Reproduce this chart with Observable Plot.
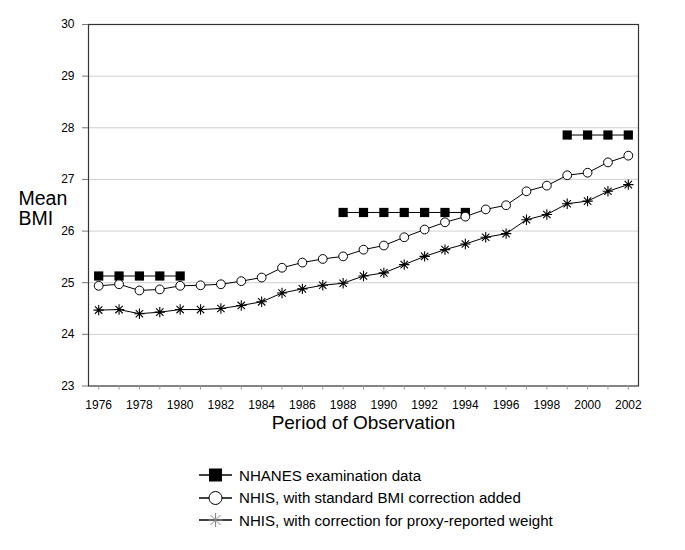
<!DOCTYPE html>
<html>
<head>
<meta charset="utf-8">
<script src="https://cdn.jsdelivr.net/npm/d3@7"></script>
<script src="https://cdn.jsdelivr.net/npm/@observablehq/plot@0.6"></script>
<style>
  html, body { margin: 0; padding: 0; background: #fff; }
  #wrap { width: 685px; font-family: "Liberation Sans", Arial, sans-serif; }
  #legend { padding-top: 18.75px; padding-left: 199px; }
  .row { display: flex; align-items: center; height: 22.5px; font-size: 15.1px; color: #000; }
  .row svg { margin-right: 7px; }
</style>
</head>
<body>
<div id="wrap"></div>
<script>
// ---- data ----
const years = [1976,1977,1978,1979,1980,1981,1982,1983,1984,1985,1986,1987,1988,1989,
  1990,1991,1992,1993,1994,1995,1996,1997,1998,1999,2000,2001,2002];
const yearLabels = [1976,1978,1980,1982,1984,1986,1988,1990,1992,1994,1996,1998,2000,2002];
const yTicks = [23,24,25,26,27,28,29,30];

const nhisStandard = [24.94,24.97,24.85,24.87,24.94,24.95,24.97,25.03,25.10,25.29,25.39,25.46,25.51,25.64,
  25.72,25.88,26.03,26.17,26.28,26.42,26.50,26.77,26.88,27.08,27.13,27.33,27.46];
const nhisProxy = [24.47,24.48,24.40,24.43,24.48,24.48,24.50,24.56,24.63,24.80,24.88,24.95,24.99,25.13,
  25.19,25.35,25.51,25.64,25.75,25.88,25.95,26.22,26.32,26.53,26.58,26.77,26.90];

const nhanesYears = [1976,1977,1978,1979,1980, 1988,1989,1990,1991,1992,1993,1994, 1999,2000,2001,2002];
const nhanesValues = [25.13,25.13,25.13,25.13,25.13, 26.36,26.36,26.36,26.36,26.36,26.36,26.36, 27.86,27.86,27.86,27.86];
const nhanesSurvey = ["NHANES II","NHANES II","NHANES II","NHANES II","NHANES II",
  "NHANES III","NHANES III","NHANES III","NHANES III","NHANES III","NHANES III","NHANES III",
  "NHANES 1999-2002","NHANES 1999-2002","NHANES 1999-2002","NHANES 1999-2002"];

const legendLabels = ["NHANES examination data","NHIS, with standard BMI correction added","NHIS, with correction for proxy-reported weight"];

// ---- tables ----
const stdData = years.map((yr, i) => ({year: yr, bmi: nhisStandard[i]}));
const proxyData = years.map((yr, i) => ({year: yr, bmi: nhisProxy[i]}));
const nhanesData = nhanesYears.map((yr, i) => ({year: yr, bmi: nhanesValues[i], survey: nhanesSurvey[i]}));

const star = {
  draw(ctx, size) {
    const r = Math.sqrt(size / Math.PI);
    const d = r * Math.SQRT1_2;
    ctx.moveTo(-r, 0); ctx.lineTo(r, 0);
    ctx.moveTo(0, -r); ctx.lineTo(0, r);
    ctx.moveTo(-d, -d); ctx.lineTo(d, d);
    ctx.moveTo(-d, d); ctx.lineTo(d, -d);
  }
};

const chart = Plot.plot({
  width: 685,
  height: 445,
  marginLeft: 88,
  marginRight: 47,
  marginTop: 24,
  marginBottom: 59.5,
  style: {fontFamily: "Liberation Sans, Arial, sans-serif", background: "#fff", color: "#000"},
  x: {domain: [1975.5, 2002.5]},
  y: {domain: [23, 30]},
  marks: [
    Plot.gridY(yTicks.filter(d => d > 23 && d < 30), {stroke: "#cfcfcf", strokeOpacity: 1}),
    Plot.frame({stroke: "#333", strokeWidth: 1.2}),
    Plot.axisY(yTicks, {tickSize: 6, tickPadding: 8, fontSize: 12, stroke: "#777", label: null, tickFormat: d => String(d)}),
    Plot.axisX(years, {tickSize: 4, stroke: "#999", tickFormat: () => "", label: null}),
    Plot.axisX(yearLabels, {tickSize: 0, tickPadding: 14, fontSize: 12, tickFormat: d => String(d), label: null}),
    Plot.text(["Period of Observation"], {frameAnchor: "bottom", dy: 37, lineAnchor: "middle", fontSize: 19, fill: "#000"}),
    Plot.text(["Mean\nBMI"], {frameAnchor: "left", textAnchor: "start", dx: -70, dy: 3, lineAnchor: "middle", fontSize: 19.5, lineHeight: 1.05, fill: "#000"}),
    // NHIS proxy
    Plot.line(proxyData, {x: "year", y: "bmi", stroke: "#000", strokeWidth: 1}),
    Plot.dot(proxyData, {x: "year", y: "bmi", symbol: star, r: 5.2, stroke: "#000", strokeWidth: 1.1, fill: "none"}),
    // NHANES
    Plot.line(nhanesData, {x: "year", y: "bmi", z: "survey", stroke: "#000", strokeWidth: 1}),
    Plot.dot(nhanesData, {x: "year", y: "bmi", symbol: "square", r: 5.2, fill: "#000", stroke: "none"}),
    // NHIS standard
    Plot.line(stdData, {x: "year", y: "bmi", stroke: "#000", strokeWidth: 1}),
    Plot.dot(stdData, {x: "year", y: "bmi", symbol: "circle", r: 4.4, fill: "#fff", stroke: "#000", strokeWidth: 1})
  ]
});

const wrap = document.getElementById("wrap");
wrap.appendChild(chart);

// ---- legend ----
const legend = document.createElement("div");
legend.id = "legend";
const swatches = [
  `<svg width="33" height="16"><line x1="0" y1="8" x2="33" y2="8" stroke="#000" stroke-width="1.4"/><rect x="10" y="1.5" width="13" height="13" fill="#000"/></svg>`,
  `<svg width="33" height="16"><line x1="0" y1="8" x2="33" y2="8" stroke="#000" stroke-width="1.4"/><circle cx="16.5" cy="8" r="6.5" fill="#fff" stroke="#000" stroke-width="1"/></svg>`,
  `<svg width="33" height="16"><line x1="0" y1="8" x2="33" y2="8" stroke="#000" stroke-width="1.4"/><g stroke="#888" stroke-width="1"><line x1="16.5" y1="1" x2="16.5" y2="15"/><line x1="9.5" y1="8" x2="23.5" y2="8"/><line x1="11.5" y1="3" x2="21.5" y2="13"/><line x1="11.5" y1="13" x2="21.5" y2="3"/></g></svg>`
];
legendLabels.forEach((lab, i) => {
  const row = document.createElement("div");
  row.className = "row";
  row.innerHTML = swatches[i] + `<span>${lab}</span>`;
  legend.appendChild(row);
});
wrap.appendChild(legend);
</script>
</body>
</html>
